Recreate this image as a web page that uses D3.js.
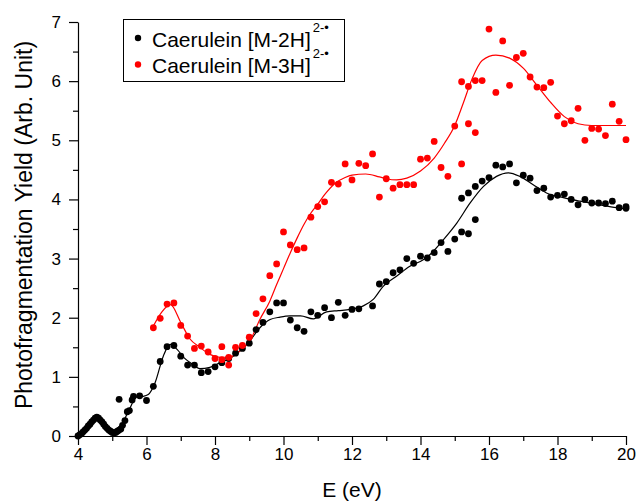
<!DOCTYPE html>
<html>
<head>
<meta charset="utf-8">
<script src="https://cdn.jsdelivr.net/npm/d3@7"></script>
<style>
  body { margin: 0; background: #fff; }
  text { font-family: "Liberation Sans", Arial, Helvetica, sans-serif; }
</style>
</head>
<body>
<script>
"use strict";

// black points: Caerulein [M-2H]2-.
const blackE = [4.0, 4.05, 4.1, 4.15, 4.2, 4.25, 4.3, 4.35, 4.4, 4.45, 4.5, 4.55, 4.6, 4.65, 4.7, 4.75, 4.8, 4.85, 4.9, 4.95, 5.0, 5.05, 5.1, 5.15, 5.2, 5.25,
    5.2, 5.3, 5.37, 5.44, 5.5, 5.58, 5.62, 5.8, 6.0, 6.2, 6.4, 6.6, 6.8, 7.0, 7.2, 7.4, 7.6, 7.8, 8.0, 8.2, 8.4, 8.6, 8.8, 9.0, 9.2, 9.4, 9.6, 9.8, 10.0,
    10.2, 10.4, 10.6, 10.8, 11.0, 11.2, 11.4, 11.6, 11.8, 12.0, 12.2, 12.6, 12.8, 13.0, 13.2, 13.4, 13.6, 13.8, 14.0, 14.2, 14.4, 14.6, 14.8, 15.0,
    15.2, 15.4, 15.6, 15.2, 15.4, 15.6, 15.8, 16.0, 16.2, 16.4, 16.6, 16.8, 17.0, 17.2, 17.4, 17.6, 17.8, 18.0, 18.2, 18.4, 18.6, 18.8, 19.0, 19.2,
    19.4, 19.6, 19.8, 20.0, 20.0];
const blackY = [0.0, 0.02, 0.04, 0.07, 0.1, 0.13, 0.17, 0.2, 0.24, 0.27, 0.3, 0.32, 0.3, 0.27, 0.24, 0.2, 0.16, 0.13, 0.1, 0.08, 0.06, 0.05, 0.06, 0.08, 0.1, 0.12,
    0.62, 0.18, 0.26, 0.41, 0.43, 0.61, 0.67, 0.68, 0.6, 0.84, 1.26, 1.51, 1.53, 1.35, 1.2, 1.2, 1.07, 1.09, 1.17, 1.24, 1.31, 1.4, 1.48, 1.57, 1.8, 1.92, 2.1, 2.25, 2.25,
    1.96, 1.83, 1.77, 2.1, 2.04, 2.17, 2.0, 2.26, 2.04, 2.14, 2.15, 2.2, 2.57, 2.61, 2.76, 2.81, 3.0, 2.92, 3.04, 3.01, 3.1, 3.27, 3.12, 3.33,
    3.45, 3.42, 3.66, 4.02, 4.11, 4.22, 4.31, 4.37, 4.58, 4.55, 4.6, 4.28, 4.41, 4.36, 4.15, 4.19, 4.04, 4.07, 4.09, 4.0, 3.91, 4.0, 3.94, 3.94,
    3.93, 3.97, 3.86, 3.85, 3.88];

// red points: Caerulein [M-3H]2-.
const redE = [6.2, 6.4, 6.6, 6.8, 7.0, 7.2, 7.4, 7.6, 7.8, 8.0, 8.2, 8.2, 8.4, 8.4, 8.6, 8.8, 9.0, 9.2, 9.4, 9.6, 9.8, 10.0, 10.2, 10.4, 10.6, 10.8,
    11.0, 11.2, 11.4, 11.6, 11.8, 12.0, 12.2, 12.4, 12.6, 12.8, 13.0, 13.2, 13.4, 13.6, 13.8, 14.0, 14.2, 14.4, 14.6, 14.8, 15.0, 15.2, 15.2,
    15.4, 15.4, 15.6, 15.6, 15.8, 16.0, 16.2, 16.4, 16.6, 16.8, 17.0, 17.2, 17.4, 17.6, 17.8, 18.0, 18.2, 18.4, 18.6, 18.8, 19.0, 19.2, 19.4,
    19.6, 19.8, 20.0];
const redY = [1.83, 1.99, 2.23, 2.25, 1.87, 1.69, 1.48, 1.52, 1.42, 1.31, 1.51, 1.29, 1.2, 1.33, 1.5, 1.53, 1.67, 2.07, 2.32, 2.71, 2.91, 3.45, 3.23, 3.15, 3.18, 3.7,
    3.88, 3.96, 4.29, 4.26, 4.6, 4.33, 4.61, 4.57, 4.77, 4.04, 4.35, 4.19, 4.25, 4.25, 4.25, 4.68, 4.7, 4.98, 4.54, 4.39, 5.24, 4.6, 5.99,
    5.91, 5.28, 6.01, 5.13, 6.01, 6.88, 5.81, 6.68, 5.93, 6.4, 6.47, 6.07, 5.9, 5.89, 5.98, 5.41, 5.28, 5.33, 5.54, 5.0, 5.2, 5.19, 5.08,
    5.61, 5.32, 5.01];

// smooth fit lines
const blackFitE = [4.0, 4.2, 4.4, 4.55, 4.7, 4.85, 5.0, 5.15, 5.3, 5.5, 5.71, 5.9, 6.05, 6.25, 6.49, 6.69, 6.9, 7.1, 7.3, 7.56, 7.85, 8.15, 8.44, 8.73,
    9.02, 9.31, 9.61, 9.9, 10.19, 10.5, 10.87, 11.26, 11.6, 11.94, 12.33, 12.62, 12.91, 13.3, 13.69, 14.08, 14.28, 14.67, 15.06, 15.45, 15.84,
    16.22, 16.56, 16.9, 17.29, 17.68, 18.17, 18.66, 19.14, 19.73, 20.0];
const blackFitY = [0.0, 0.12, 0.25, 0.32, 0.26, 0.16, 0.1, 0.1, 0.22, 0.45, 0.66, 0.67, 0.7, 0.9, 1.35, 1.55, 1.46, 1.32, 1.23, 1.14, 1.16, 1.24, 1.31, 1.44,
    1.61, 1.83, 1.97, 2.01, 2.03, 2.03, 1.98, 2.1, 2.12, 2.14, 2.2, 2.31, 2.53, 2.7, 2.87, 2.98, 3.07, 3.32, 3.6, 3.94, 4.22,
    4.39, 4.45, 4.39, 4.25, 4.11, 4.03, 3.97, 3.92, 3.86, 3.84];
const redFitE = [6.2, 6.45, 6.7, 7.0, 7.27, 7.56, 7.85, 8.15, 8.44, 8.73, 9.02, 9.31, 9.6, 9.8, 10.0, 10.2, 10.4, 10.6, 10.8, 11.0, 11.2, 11.5, 11.8, 12.0,
    12.4, 12.8, 13.0, 13.3, 13.6, 14.0, 14.4, 14.7, 15.0, 15.25, 15.5, 15.8, 16.2, 16.6, 17.0, 17.4, 17.8, 18.2, 18.6, 19.0, 19.5, 20.0];
const redFitY = [1.86, 2.1, 2.22, 1.92, 1.64, 1.5, 1.38, 1.33, 1.34, 1.44, 1.61, 1.97, 2.28, 2.56, 2.83, 3.1, 3.35, 3.58, 3.77, 3.92, 4.08, 4.27, 4.37, 4.41,
    4.43, 4.38, 4.35, 4.33, 4.36, 4.48, 4.7, 4.95, 5.25, 5.63, 6.03, 6.35, 6.44, 6.39, 6.22, 5.93, 5.64, 5.4, 5.28, 5.25, 5.25, 5.25];

const xMajorTicks = [4, 6, 8, 10, 12, 14, 16, 18, 20];
const xMinorTicks = [5, 7, 9, 11, 13, 15, 17, 19];
const yMajorTicks = [0, 1, 2, 3, 4, 5, 6, 7];
const yMinorTicks = [0.5, 1.5, 2.5, 3.5, 4.5, 5.5, 6.5];

const legendLabels = ["Caerulein [M-2H]", "Caerulein [M-3H]"];
const legendColors = ["#000000", "#ff0000"];

// dimensions for svg
const measurements = {
    width: 643,
    height: 503,
    left: 78,
    right: 626,
    top: 22,
    bottom: 436
};

const svg = d3.select("body").append("svg")
    .attr("width", measurements.width)
    .attr("height", measurements.height);

const scaleX = d3.scaleLinear().domain([4, 20]).range([measurements.left, measurements.right]);
const scaleY = d3.scaleLinear().domain([0, 7]).range([measurements.bottom, measurements.top]);

function zip(xs, ys) {
    return xs.map((x, i) => ({ x: x, y: ys[i] }));
}

// axes
function styleAxis(g) {
    g.selectAll("path, line").attr("stroke", "#000").attr("stroke-width", 1.2);
    g.selectAll("text").attr("fill", "#000").style("font-size", "17px");
}

svg.append("g")
    .attr("transform", `translate(0,${measurements.bottom})`)
    .call(d3.axisBottom(scaleX).tickValues(xMinorTicks).tickSize(5).tickSizeOuter(0).tickFormat(""))
    .call(styleAxis)
    .select(".domain").remove();

svg.append("g")
    .attr("transform", `translate(0,${measurements.bottom})`)
    .call(d3.axisBottom(scaleX).tickValues(xMajorTicks).tickSize(9).tickSizeOuter(0).tickPadding(3).tickFormat(d3.format("d")))
    .call(styleAxis);

svg.append("g")
    .attr("transform", `translate(${measurements.left},0)`)
    .call(d3.axisLeft(scaleY).tickValues(yMinorTicks).tickSize(5).tickSizeOuter(0).tickFormat(""))
    .call(styleAxis)
    .select(".domain").remove();

svg.append("g")
    .attr("transform", `translate(${measurements.left},0)`)
    .call(d3.axisLeft(scaleY).tickValues(yMajorTicks).tickSize(9).tickSizeOuter(0).tickPadding(8).tickFormat(d3.format("d")))
    .call(styleAxis);

// axis titles
svg.append("text")
    .attr("x", (measurements.left + measurements.right) / 2)
    .attr("y", 497)
    .attr("text-anchor", "middle")
    .style("font-size", "21px")
    .text("E (eV)");

svg.append("text")
    .attr("transform", `translate(32,${(measurements.top + measurements.bottom) / 2 - 4}) rotate(-90)`)
    .attr("text-anchor", "middle")
    .style("font-size", "23px")
    .text("Photofragmentation Yield (Arb. Unit)");

// fit lines
const line = d3.line()
    .x(d => scaleX(d.x))
    .y(d => scaleY(d.y))
    .curve(d3.curveMonotoneX);

svg.append("path")
    .datum(zip(blackFitE, blackFitY))
    .attr("d", line)
    .attr("fill", "none")
    .attr("stroke", "#000")
    .attr("stroke-width", 1.2);

svg.append("path")
    .datum(zip(redFitE, redFitY))
    .attr("d", line)
    .attr("fill", "none")
    .attr("stroke", "#ff0000")
    .attr("stroke-width", 1.2);

// points
svg.append("g").selectAll("circle")
    .data(zip(blackE, blackY))
    .enter()
    .append("circle")
    .attr("cx", d => scaleX(d.x))
    .attr("cy", d => scaleY(d.y))
    .attr("r", 3.4)
    .attr("fill", "#000");

svg.append("g").selectAll("circle")
    .data(zip(redE, redY))
    .enter()
    .append("circle")
    .attr("cx", d => scaleX(d.x))
    .attr("cy", d => scaleY(d.y))
    .attr("r", 3.4)
    .attr("fill", "#ff0000");

// legend
const legend = svg.append("g");
legend.append("rect")
    .attr("x", 123.5)
    .attr("y", 19.5)
    .attr("width", 221)
    .attr("height", 62)
    .attr("fill", "#fff")
    .attr("stroke", "#000")
    .attr("stroke-width", 1);

legendLabels.forEach((label, i) => {
    const y = 46.5 + i * 26.5;
    legend.append("circle")
        .attr("cx", 138)
        .attr("cy", y - 8.5)
        .attr("r", 3.2)
        .attr("fill", legendColors[i]);
    const t = legend.append("text")
        .attr("x", 152)
        .attr("y", y)
        .style("font-size", "21px")
        .attr("fill", "#000");
    t.append("tspan").text(label);
    t.append("tspan")
        .attr("dx", 2)
        .attr("dy", -15)
        .style("font-size", "13px")
        .text("2-\u2022");
});
</script>
</body>
</html>
